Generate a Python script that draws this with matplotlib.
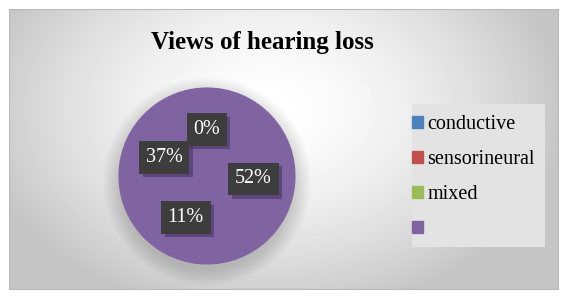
import numpy as np
import matplotlib
matplotlib.use("Agg")
from matplotlib import pyplot as plt
from matplotlib.patches import Rectangle, Circle
import matplotlib.patheffects as pe

# data
title = "Views of hearing loss"
categories = ["conductive", "sensorineural", "mixed", ""]
legend_colors = ["#4f81bd", "#c0504d", "#9bbb59", "#8064a2"]
slice_values = [52, 11, 37, 0]
slice_color = "#8064a2"

plt.rcParams["font.family"] = ["Liberation Serif", "DejaVu Serif"]

fig = plt.figure(figsize=(5.66, 3.00), dpi=100)
W, H = 566, 300

# chart area background with radial gradient
bg = fig.add_axes([9 / W, 1 - 290 / H, 550 / W, 281 / H])
bg.set_axis_off()
yy, xx = np.mgrid[0:281, 0:550]
r = np.sqrt(((xx - 260) / 330.0) ** 2 + ((yy - 100) / 230.0) ** 2)
shade = np.clip(1.0 - 0.27 * r ** 1.6, 0.77, 1.0)
bg.imshow(shade, cmap="gray", vmin=0, vmax=1, aspect="auto",
          extent=[0, 550, 281, 0])
bg.add_patch(Rectangle((0, 0), 549.5, 280.5, fill=False, ec="#b8b8b8", lw=1.5))
# legend box
bg.add_patch(Rectangle((403, 95), 133, 143, fc="#e3e3e3", ec="none"))
bg.set_xlim(0, 550)
bg.set_ylim(281, 0)

# title
fig.text(262 / W, 1 - 42 / H, title, ha="center", va="center",
         fontsize=18, fontweight="bold", color="black")

# pie
cx, cy, rad = 207, 176, 88
ax = fig.add_axes([(cx - rad) / W, 1 - (cy + rad) / H, 2 * rad / W, 2 * rad / H])
ax.set_axis_off()
for k in range(10):
    ax.add_patch(Circle((0.0, -0.06), 1.0 + 0.02 * k, color="black",
                        alpha=0.016, lw=0, clip_on=False, zorder=0))
wedges, texts, autotexts = ax.pie(
    slice_values, colors=[slice_color] * len(slice_values), startangle=90,
    counterclock=False, autopct="%1.0f%%", pctdistance=0.53,
    wedgeprops=dict(linewidth=0.8, edgecolor=slice_color),
    textprops=dict(fontsize=14.5, color="white"))
for w in wedges:
    w.set_zorder(2)
for t in autotexts:
    t.set_bbox(dict(boxstyle="square,pad=0.33", fc="#3d3d3d", ec="none"))
    t.get_bbox_patch().set_path_effects([
        pe.SimplePatchShadow(offset=(2.5, -2.5), shadow_rgbFace="#3a2a55", alpha=0.5),
        pe.Normal()])
    t.set_zorder(4)
ax.set_xlim(-1, 1)
ax.set_ylim(-1, 1)

# legend
handles = [Rectangle((0, 0), 1, 1, color=c) for c in legend_colors]
leg = fig.legend(handles, categories, loc="upper left",
                 bbox_to_anchor=(412 / W, 1 - 115 / H), frameon=False,
                 fontsize=14.5, handlelength=0.55, handleheight=0.55,
                 handletextpad=0.2, labelspacing=0.8, borderpad=0,
                 borderaxespad=0)

fig.savefig("out.png", dpi=100)
